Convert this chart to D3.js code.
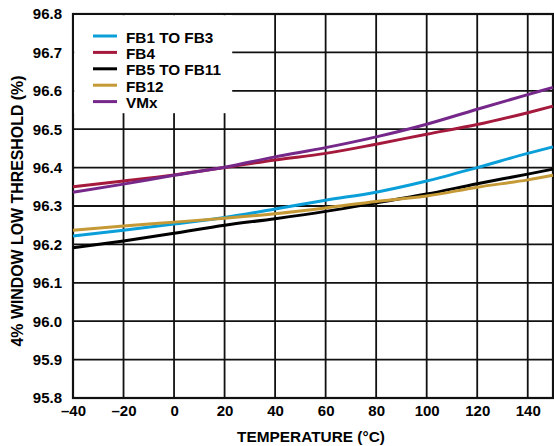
<!DOCTYPE html>
<html>
<head>
<meta charset="utf-8">
<script src="https://cdn.jsdelivr.net/npm/d3@7/dist/d3.min.js"></script>
<style>
  html, body { margin: 0; padding: 0; background: #fff; }
  svg { display: block; font-family: "Liberation Sans", Arial, sans-serif; font-weight: bold; }
</style>
</head>
<body>
<svg id="chart" width="554" height="446"></svg>
<script>
// Temperature sample points (°C)
const temps = [-40, -20, 0, 20, 40, 60, 80, 100, 120, 140, 150];

// Threshold (%) per channel group
const fb1to3  = [96.222, 96.237, 96.253, 96.270, 96.292, 96.315, 96.336, 96.365, 96.400, 96.437, 96.454];
const fb4     = [96.350, 96.365, 96.381, 96.400, 96.420, 96.437, 96.461, 96.487, 96.512, 96.543, 96.560];
const fb5to11 = [96.191, 96.209, 96.229, 96.250, 96.267, 96.286, 96.308, 96.331, 96.358, 96.383, 96.396];
const fb12    = [96.237, 96.248, 96.258, 96.268, 96.280, 96.295, 96.312, 96.326, 96.349, 96.368, 96.380];
const vmx     = [96.336, 96.357, 96.380, 96.401, 96.428, 96.452, 96.480, 96.513, 96.552, 96.590, 96.609];

const seriesNames  = ["FB1 TO FB3", "FB4", "FB5 TO FB11", "FB12", "VMx"];
const seriesValues = [fb1to3, fb4, fb5to11, fb12, vmx];
const seriesColors = ["#0a9fd8", "#a5193d", "#000000", "#c59a36", "#76288a"];

const xTicks = [-40, -20, 0, 20, 40, 60, 80, 100, 120, 140];
const yTicks = [95.8, 95.9, 96.0, 96.1, 96.2, 96.3, 96.4, 96.5, 96.6, 96.7, 96.8];

const svg = d3.select("#chart");
const plotLeft = 73, plotRight = 553, plotTop = 14, plotBottom = 398;

const x = d3.scaleLinear().domain([-40, 150]).range([plotLeft, plotRight]);
const y = d3.scaleLinear().domain([95.8, 96.8]).range([plotBottom, plotTop]);

const gridColor = "#111";
const fontFamily = "Liberation Sans, Arial, sans-serif";

// Grid
const grid = svg.append("g");
grid.selectAll("line.h").data(yTicks).join("line")
  .attr("class", "h")
  .attr("x1", plotLeft).attr("x2", plotRight)
  .attr("y1", d => y(d)).attr("y2", d => y(d))
  .attr("stroke", gridColor).attr("stroke-width", 1.8);
grid.selectAll("line.v").data(xTicks.concat([150])).join("line")
  .attr("class", "v")
  .attr("y1", plotTop).attr("y2", plotBottom)
  .attr("x1", d => x(d)).attr("x2", d => x(d))
  .attr("stroke", gridColor).attr("stroke-width", 1.8);

// Frame
svg.append("rect")
  .attr("x", plotLeft).attr("y", plotTop)
  .attr("width", plotRight - plotLeft).attr("height", plotBottom - plotTop)
  .attr("fill", "none").attr("stroke", gridColor).attr("stroke-width", 2.2);

// Axes (labels only; grid supplies the ticks)
const fmtX = d => (d < 0 ? "\u2013" + Math.abs(d) : String(d));
const xAxis = svg.append("g")
  .attr("transform", `translate(0,${plotBottom})`)
  .call(d3.axisBottom(x).tickValues(xTicks).tickFormat(fmtX).tickSize(0).tickPadding(7));
xAxis.select(".domain").remove();
xAxis.selectAll("text").attr("font-size", 15).attr("font-weight", "bold")
  .attr("font-family", fontFamily).attr("fill", "#000");

const yAxis = svg.append("g")
  .attr("transform", `translate(${plotLeft},0)`)
  .call(d3.axisLeft(y).tickValues(yTicks).tickFormat(d3.format(".1f")).tickSize(0).tickPadding(11));
yAxis.select(".domain").remove();
yAxis.selectAll("text").attr("font-size", 15).attr("font-weight", "bold")
  .attr("font-family", fontFamily).attr("fill", "#000");

// Axis titles
svg.append("text")
  .attr("x", 311).attr("y", 442)
  .attr("text-anchor", "middle").attr("font-size", 15.4)
  .text("TEMPERATURE (°C)");
svg.append("text")
  .attr("transform", `translate(22.5,211) rotate(-90)`)
  .attr("text-anchor", "middle").attr("font-size", 15.9)
  .text("4% WINDOW LOW THRESHOLD (%)");

// Legend background
svg.append("rect")
  .attr("x", plotLeft + 1.2).attr("y", plotTop + 1.2)
  .attr("width", 158).attr("height", 98)
  .attr("fill", "#fff");

// Series
const line = d3.line()
  .x((d, i) => x(temps[i]))
  .y(d => y(d))
  .curve(d3.curveMonotoneX);

const plot = svg.append("g");
plot.selectAll("path").data(seriesValues).join("path")
  .attr("d", d => line(d))
  .attr("fill", "none")
  .attr("stroke", (d, i) => seriesColors[i])
  .attr("stroke-width", 3);

// Legend entries
const legend = svg.append("g");
const lg = legend.selectAll("g").data(seriesNames).join("g")
  .attr("transform", (d, i) => `translate(93,${36 + i * 16.4})`);
lg.append("line")
  .attr("x1", 0).attr("x2", 24).attr("y1", 0).attr("y2", 0)
  .attr("stroke", (d, i) => seriesColors[i]).attr("stroke-width", 3);
lg.append("text")
  .attr("x", 33).attr("y", 6.5)
  .attr("font-size", 15.3)
  .text(d => d);
</script>
</body>
</html>
